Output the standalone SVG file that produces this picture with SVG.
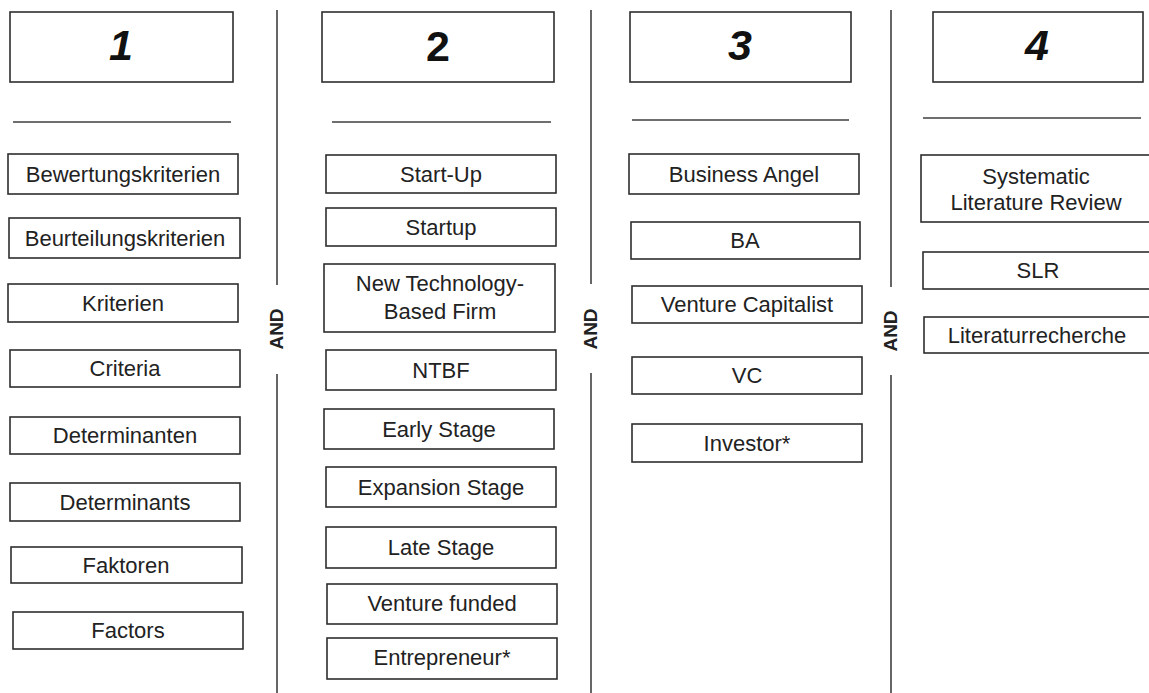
<svg xmlns="http://www.w3.org/2000/svg" width="1149" height="693" viewBox="0 0 1149 693">
  <style>
    .box { fill: #ffffff; stroke: #2e2e2e; stroke-width: 1.6; }
    .hdr { fill: #ffffff; stroke: #2e2e2e; stroke-width: 1.6; }
    .rule { stroke: #6e6e6e; stroke-width: 2; }
    .divider { stroke: #666666; stroke-width: 2; }
    .lbl { font-family: "Liberation Sans", Arial, sans-serif; font-size: 22px; fill: #222222; text-anchor: middle; }
    .num { font-family: "Liberation Sans", Arial, sans-serif; font-size: 43px; font-weight: bold; font-style: italic; fill: #111111; text-anchor: middle; }
    .and { font-family: "Liberation Sans", Arial, sans-serif; font-size: 19px; font-weight: bold; fill: #222222; text-anchor: middle; }
  </style>
  <rect width="1149" height="693" fill="#ffffff"/>

  <!-- column separators with AND labels -->
  <g id="connectors">
    <line class="divider" x1="277" y1="10" x2="277" y2="285"/>
    <line class="divider" x1="277" y1="374" x2="277" y2="693"/>
    <text class="and" transform="translate(283 329) rotate(-90)">AND</text>

    <line class="divider" x1="591" y1="10" x2="591" y2="284"/>
    <line class="divider" x1="591" y1="373" x2="591" y2="693"/>
    <text class="and" transform="translate(597 329) rotate(-90)">AND</text>

    <line class="divider" x1="891" y1="10" x2="891" y2="287"/>
    <line class="divider" x1="891" y1="375" x2="891" y2="693"/>
    <text class="and" transform="translate(897 331) rotate(-90)">AND</text>
  </g>

  <!-- column 1 -->
  <g id="col1-header">
    <rect class="hdr" x="10" y="12" width="223" height="70"/>
    <text class="num" x="121" y="60">1</text>
    <line class="rule" x1="13" y1="122" x2="231" y2="122"/>
  </g>
  <g id="n-bewertungskriterien"><rect class="box" x="8" y="154" width="230" height="40"/><text class="lbl" x="123" y="182">Bewertungskriterien</text></g>
  <g id="n-beurteilungskriterien"><rect class="box" x="9" y="218" width="231" height="40"/><text class="lbl" x="125" y="246">Beurteilungskriterien</text></g>
  <g id="n-kriterien"><rect class="box" x="8" y="284" width="230" height="38"/><text class="lbl" x="123" y="311">Kriterien</text></g>
  <g id="n-criteria"><rect class="box" x="10" y="350" width="230" height="37"/><text class="lbl" x="125" y="376">Criteria</text></g>
  <g id="n-determinanten"><rect class="box" x="10" y="417" width="230" height="37"/><text class="lbl" x="125" y="443">Determinanten</text></g>
  <g id="n-determinants"><rect class="box" x="10" y="483" width="230" height="38"/><text class="lbl" x="125" y="510">Determinants</text></g>
  <g id="n-faktoren"><rect class="box" x="11" y="547" width="231" height="36"/><text class="lbl" x="126" y="573">Faktoren</text></g>
  <g id="n-factors"><rect class="box" x="13" y="612" width="230" height="37"/><text class="lbl" x="128" y="638">Factors</text></g>

  <!-- column 2 -->
  <g id="col2-header">
    <rect class="hdr" x="322" y="12" width="232" height="70"/>
    <text class="num" x="438" y="61" style="font-style: normal">2</text>
    <line class="rule" x1="332" y1="122" x2="551" y2="122"/>
  </g>
  <g id="n-start-up"><rect class="box" x="326" y="155" width="230" height="38"/><text class="lbl" x="441" y="182">Start-Up</text></g>
  <g id="n-startup"><rect class="box" x="326" y="208" width="230" height="38"/><text class="lbl" x="441" y="235">Startup</text></g>
  <g id="n-ntbf-long"><rect class="box" x="324" y="264" width="231" height="68"/><text class="lbl" x="440" y="291">New Technology-</text><text class="lbl" x="440" y="319">Based Firm</text></g>
  <g id="n-ntbf"><rect class="box" x="326" y="350" width="230" height="40"/><text class="lbl" x="441" y="378">NTBF</text></g>
  <g id="n-early"><rect class="box" x="324" y="409" width="230" height="40"/><text class="lbl" x="439" y="437">Early Stage</text></g>
  <g id="n-expansion"><rect class="box" x="326" y="467" width="230" height="40"/><text class="lbl" x="441" y="495">Expansion Stage</text></g>
  <g id="n-late"><rect class="box" x="326" y="527" width="230" height="41"/><text class="lbl" x="441" y="555">Late Stage</text></g>
  <g id="n-venture-funded"><rect class="box" x="327" y="584" width="230" height="40"/><text class="lbl" x="442" y="611">Venture funded</text></g>
  <g id="n-entrepreneur"><rect class="box" x="327" y="638" width="230" height="41"/><text class="lbl" x="442" y="665">Entrepreneur*</text></g>

  <!-- column 3 -->
  <g id="col3-header">
    <rect class="hdr" x="630" y="12" width="221" height="70"/>
    <text class="num" x="740" y="60">3</text>
    <line class="rule" x1="632" y1="120" x2="849" y2="120"/>
  </g>
  <g id="n-business-angel"><rect class="box" x="629" y="154" width="230" height="40"/><text class="lbl" x="744" y="182">Business Angel</text></g>
  <g id="n-ba"><rect class="box" x="631" y="222" width="229" height="37"/><text class="lbl" x="745" y="248">BA</text></g>
  <g id="n-venture-capitalist"><rect class="box" x="632" y="286" width="230" height="37"/><text class="lbl" x="747" y="312">Venture Capitalist</text></g>
  <g id="n-vc"><rect class="box" x="632" y="357" width="230" height="37"/><text class="lbl" x="747" y="383">VC</text></g>
  <g id="n-investor"><rect class="box" x="632" y="424" width="230" height="38"/><text class="lbl" x="747" y="451">Investor*</text></g>

  <!-- column 4 -->
  <g id="col4-header">
    <rect class="hdr" x="933" y="12" width="210" height="70"/>
    <text class="num" x="1037" y="60">4</text>
    <line class="rule" x1="923" y1="118" x2="1141" y2="118"/>
  </g>
  <g id="n-slr-long"><rect class="box" x="921" y="155" width="230" height="67"/><text class="lbl" x="1036" y="184">Systematic</text><text class="lbl" x="1036" y="210">Literature Review</text></g>
  <g id="n-slr"><rect class="box" x="923" y="252" width="228" height="37"/><text class="lbl" x="1038" y="278">SLR</text></g>
  <g id="n-literaturrecherche"><rect class="box" x="924" y="317" width="227" height="36"/><text class="lbl" x="1037" y="343">Literaturrecherche</text></g>
</svg>
